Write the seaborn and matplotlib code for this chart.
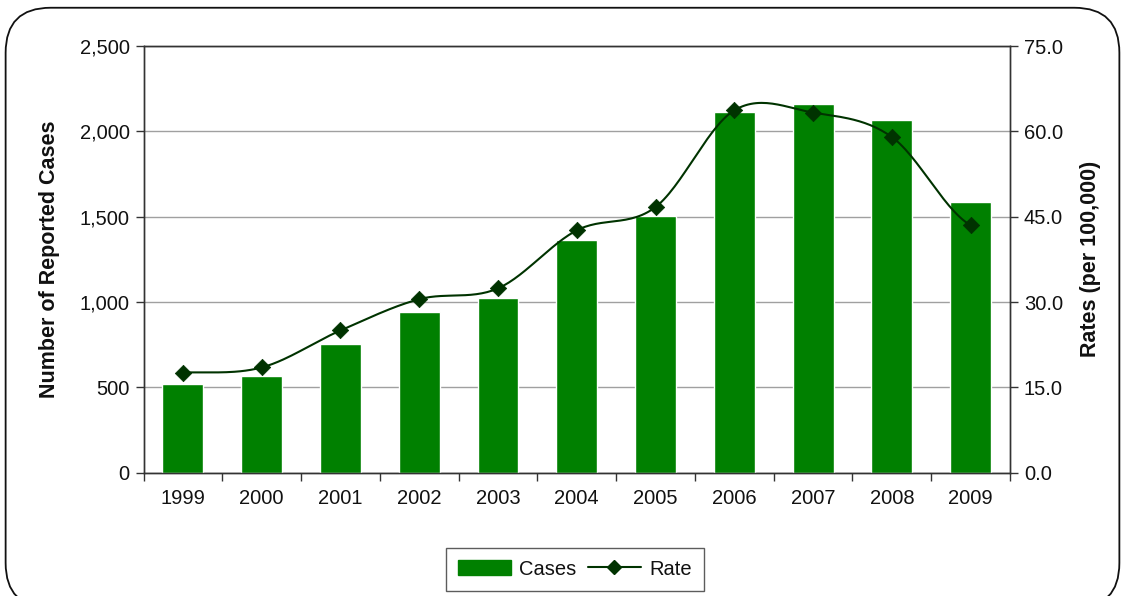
import numpy as np
import pandas as pd
import matplotlib
matplotlib.use("Agg")
import matplotlib.pyplot as plt
import seaborn as sns
from matplotlib.patches import FancyBboxPatch
from matplotlib.lines import Line2D
from matplotlib.patches import Patch

years = ["1999", "2000", "2001", "2002", "2003", "2004", "2005", "2006", "2007", "2008", "2009"]
cases = [518, 566, 754, 941, 1024, 1362, 1505, 2115, 2163, 2066, 1585]
rates = [17.6, 18.5, 25.0, 30.5, 32.4, 42.6, 46.7, 63.7, 63.3, 59.0, 43.5]

left_ticks = [0, 500, 1000, 1500, 2000, 2500]
right_ticks = [0.0, 15.0, 30.0, 45.0, 60.0, 75.0]

BAR_GREEN = "#008000"
LINE_GREEN = "#003300"
TICK_FS = 14.5
LABEL_FS = 15.5

sns.set_theme(style="white")
plt.rcParams["font.family"] = ["Liberation Sans", "DejaVu Sans"]

fig = plt.figure(figsize=(11.25, 5.96), dpi=100)
ax = fig.add_axes([0.1276, 0.2069, 0.7702, 0.7159])

df = pd.DataFrame({"Year": years, "Cases": cases, "Rate": rates})
sns.barplot(data=df, x="Year", y="Cases", color=BAR_GREEN, saturation=1,
            width=0.52, ax=ax, zorder=3)

ax.set_xlim(-0.5, len(years) - 0.5)
ax.set_ylim(0, 2500)
ax.set_yticks(left_ticks)
ax.set_yticklabels([f"{v:,}" for v in left_ticks], fontsize=TICK_FS, color="#111111")
ax.set_xticks(range(len(years)))
ax.set_xticklabels(years, fontsize=TICK_FS, color="#111111")
ax.set_xlabel("")
ax.set_ylabel("Number of Reported Cases", fontsize=LABEL_FS, fontweight="bold",
              labelpad=14, color="#111111")
ax.yaxis.grid(True, color="#a0a0a0", linewidth=1.0, zorder=0)
ax.set_axisbelow(True)
for side in ["left", "bottom", "top", "right"]:
    ax.spines[side].set_color("#333333")
    ax.spines[side].set_linewidth(1.0)
ax.tick_params(axis="y", which="major", direction="out", length=6, width=1,
               color="#333333", left=True, pad=4)
# category boundary ticks on the x-axis
ax.tick_params(axis="x", which="major", length=0, pad=12)
ax.set_xticks(np.arange(-0.5, len(years), 1.0), minor=True)
ax.tick_params(axis="x", which="minor", direction="out", length=6, width=1,
               color="#333333", bottom=True)

ax2 = ax.twinx()
ax2.set_ylim(0, 75)
ax2.set_yticks(right_ticks)
ax2.set_yticklabels([f"{v:.1f}" for v in right_ticks], fontsize=TICK_FS, color="#111111")
ax2.set_ylabel("Rates (per 100,000)", fontsize=LABEL_FS, fontweight="bold",
               labelpad=12, color="#111111")
ax2.tick_params(axis="y", direction="out", length=6, width=1, color="#333333",
                right=True, pad=4)
for side in ["left", "bottom", "top", "right"]:
    ax2.spines[side].set_color("#333333")
    ax2.spines[side].set_linewidth(1.0)
ax2.grid(False)

# smoothed rate curve (Catmull-Rom through the yearly points)
xs = np.arange(len(rates), dtype=float)
ys = np.array(rates, dtype=float)
px = np.concatenate([[2 * xs[0] - xs[1]], xs, [2 * xs[-1] - xs[-2]]])
py = np.concatenate([[ys[0]], ys, [ys[-1]]])
cx, cy = [], []
t = np.linspace(0, 1, 30)
for i in range(1, len(px) - 2):
    p0, p1, p2, p3 = px[i - 1], px[i], px[i + 1], px[i + 2]
    q0, q1, q2, q3 = py[i - 1], py[i], py[i + 1], py[i + 2]
    b1x, b1y = p1 + (p2 - p0) / 6, q1 + (q2 - q0) / 6
    b2x, b2y = p2 - (p3 - p1) / 6, q2 - (q3 - q1) / 6
    bx = (1 - t) ** 3 * p1 + 3 * (1 - t) ** 2 * t * b1x + 3 * (1 - t) * t ** 2 * b2x + t ** 3 * p2
    by = (1 - t) ** 3 * q1 + 3 * (1 - t) ** 2 * t * b1y + 3 * (1 - t) * t ** 2 * b2y + t ** 3 * q2
    cx.extend(bx)
    cy.extend(by)
ax2.plot(cx, cy, color=LINE_GREEN, linewidth=1.5, zorder=4)
sns.scatterplot(x=xs, y=ys, marker="D", s=70, color=LINE_GREEN, edgecolor=LINE_GREEN,
                linewidth=0.5, ax=ax2, zorder=5, legend=False)
ax2.set_xlim(-0.5, len(years) - 0.5)

handles = [Patch(facecolor=BAR_GREEN, edgecolor=BAR_GREEN),
           Line2D([0], [0], color=LINE_GREEN, linewidth=1.5, marker="D",
                  markersize=7, markerfacecolor=LINE_GREEN)]
leg = fig.legend(handles, ["Cases", "Rate"], loc="center", bbox_to_anchor=(0.511, 0.045),
                 ncol=2, fontsize=TICK_FS, frameon=True, fancybox=False,
                 handlelength=2.65, handleheight=0.75, columnspacing=0.55,
                 handletextpad=0.4, borderpad=0.6, borderaxespad=0)
leg.get_frame().set_edgecolor("#333333")
leg.get_frame().set_linewidth(1.0)
for txt in leg.get_texts():
    txt.set_color("#111111")

# rounded outer frame
frame = FancyBboxPatch((0.005, -0.02), 0.99, 1.007, transform=fig.transFigure,
                       boxstyle="round,pad=0,rounding_size=0.04",
                       facecolor="none", edgecolor="#111111", linewidth=1.3,
                       mutation_aspect=1125 / 596, clip_on=False)
fig.patches.append(frame)

fig.savefig("out.png", dpi=100)
